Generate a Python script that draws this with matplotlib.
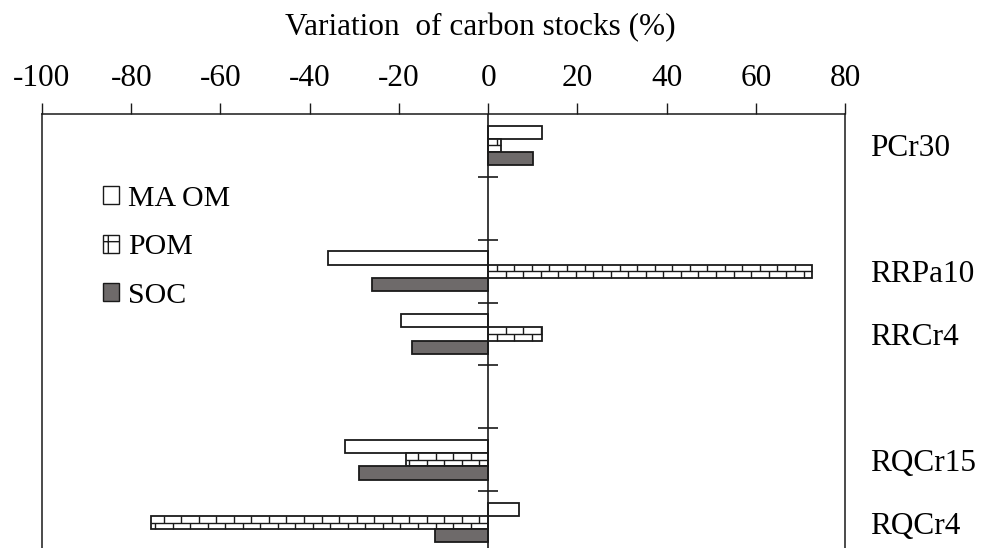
import numpy as np
import matplotlib

matplotlib.use("Agg")
import matplotlib.pyplot as plt
from matplotlib.collections import LineCollection
from matplotlib.patches import Patch

plt.rcParams["font.family"] = ["Liberation Serif", "DejaVu Serif"]
plt.rcParams["axes.unicode_minus"] = False

# sites, top to bottom (blank rows are gaps in the layout)
sites = ["PCr30", "", "RRPa10", "RRCr4", "", "RQCr15", "RQCr4"]
maom = [12, np.nan, -36, -19.5, np.nan, -32, 7]
pom = [3, np.nan, 72.5, 12, np.nan, -18.5, -75.5]
soc = [10, np.nan, -26, -17, np.nan, -29, -12]
xticks = [-100, -80, -60, -40, -20, 0, 20, 40, 60, 80]

FS = 22.5
EDGE = "#1a1a1a"
GREY = "#6e6a6a"
BAR_H = 0.21


def add_bricks(ax, bar, brick_w=3.93, row_h=1 / 9):
    """Brick-wall fill for one bar, cut to the bar outline."""
    x0 = min(bar.get_x(), bar.get_x() + bar.get_width())
    x1 = max(bar.get_x(), bar.get_x() + bar.get_width())
    y0 = bar.get_y()
    y1 = y0 + bar.get_height()
    segs = []
    for k in range(int(np.floor(y0 / row_h)), int(np.ceil(y1 / row_h))):
        ya, yb = k * row_h, (k + 1) * row_h
        if y0 < ya < y1:
            segs.append([(x0, ya), (x1, ya)])
        ya, yb = max(ya, y0), min(yb, y1)
        if yb <= ya:
            continue
        shift = brick_w / 2 if k % 2 else 0.0
        for j in range(int(np.floor((x0 - shift) / brick_w)),
                       int(np.ceil((x1 - shift) / brick_w)) + 1):
            xv = j * brick_w + shift
            if x0 < xv < x1:
                segs.append([(xv, ya), (xv, yb)])
    lc = LineCollection(segs, colors=EDGE, linewidths=1.0, zorder=bar.get_zorder() + 0.1)
    ax.add_collection(lc)


fig = plt.figure(figsize=(9.86, 5.48), dpi=100)
ax = fig.add_axes([42 / 986, -0.011, 803 / 986, 0.803])

y = np.arange(len(sites))
ax.barh(y - BAR_H, maom, height=BAR_H, color="white", edgecolor=EDGE, linewidth=1.3, zorder=3)
pom_bars = ax.barh(y, pom, height=BAR_H, color="white", edgecolor=EDGE, linewidth=1.3, zorder=3)
ax.barh(y + BAR_H, soc, height=BAR_H, color=GREY, edgecolor=EDGE, linewidth=1.3, zorder=3)
for b in pom_bars:
    if np.isfinite(b.get_width()) and b.get_width() != 0:
        add_bricks(ax, b)

# zero line with short cross ticks between site rows
ax.axvline(0, color=EDGE, linewidth=1.2, zorder=4)
bounds = y[:-1] + 0.5
ax.plot(np.zeros(len(bounds)), bounds, linestyle="none", marker="_",
        markersize=15, markeredgewidth=1.2, color=EDGE, zorder=4)

ax.set_xlim(-100, 80)
ax.set_ylim(len(sites) - 0.5, -0.5)

ax.xaxis.tick_top()
ax.set_xticks(xticks)
ax.set_xticklabels([str(v) for v in xticks])
ax.tick_params(axis="x", direction="out", length=8, width=1.0, color=EDGE,
               pad=7, labelsize=FS)

ax.yaxis.tick_right()
ax.set_yticks(y)
ax.set_yticklabels(sites)
ax.tick_params(axis="y", length=0, pad=18, labelsize=FS)

for s in ax.spines.values():
    s.set_color(EDGE)
    s.set_linewidth(1.1)
ax.spines["bottom"].set_visible(False)

fig.text(480 / 986, 1 - 35 / 548, "Variation  of carbon stocks (%)",
         ha="center", va="baseline", fontsize=FS)

handles = [
    Patch(facecolor="white", edgecolor=EDGE, linewidth=1.0, label="MA OM"),
    Patch(facecolor="white", edgecolor=EDGE, linewidth=1.0, hatch="+", label="POM"),
    Patch(facecolor=GREY, edgecolor=EDGE, linewidth=1.0, label="SOC"),
]
fig.legend(handles=handles, loc="upper left", bbox_to_anchor=(103 / 986, 1 - 186 / 548),
           frameon=False, borderpad=0, borderaxespad=0, fontsize=21.5,
           handlelength=0.55, handleheight=0.55, handletextpad=0.28, labelspacing=0.75)

fig.savefig("out.png", dpi=100)
